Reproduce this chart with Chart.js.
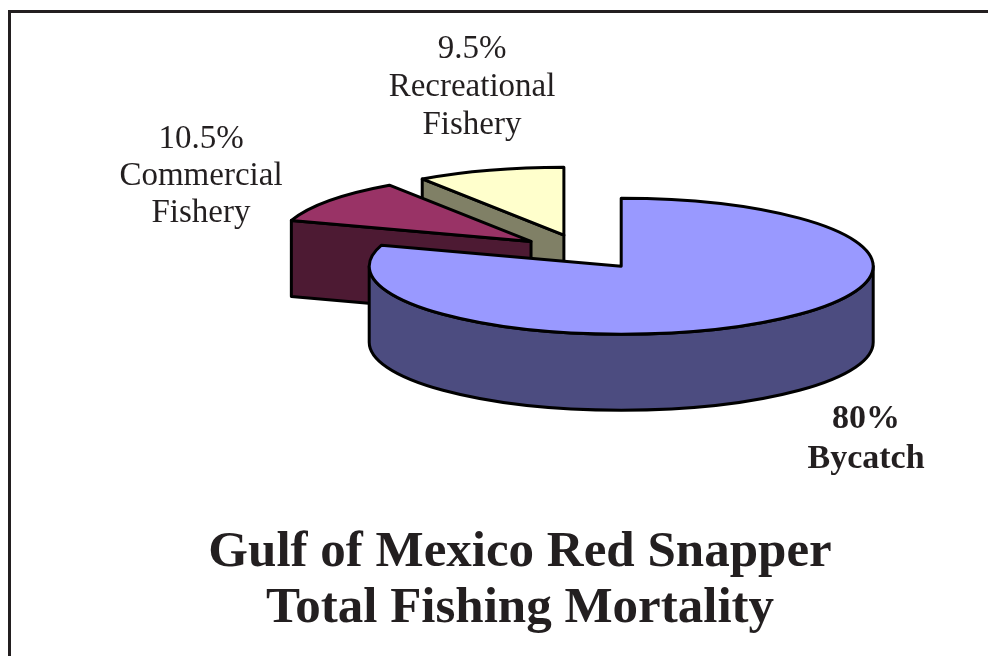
<!DOCTYPE html>
<html>
<head>
<meta charset="utf-8">
<script src="https://cdn.jsdelivr.net/npm/chart.js@4/dist/chart.umd.min.js"></script>
<style>
  html, body { margin: 0; padding: 0; background: #fff; overflow: hidden; }
  #wrap { width: 988px; height: 656px; position: relative; }
</style>
</head>
<body>
<div id="wrap"><canvas id="pie"></canvas></div>
<script>
const categories = ['Bycatch', 'Commercial Fishery', 'Recreational Fishery'];
const shares = [80, 10.5, 9.5];
const titleLines = ['Gulf of Mexico Red Snapper', 'Total Fishing Mortality'];

const topColors = ['#9999ff', '#993366', '#ffffcc'];
const sideColors = ['#4c4c80', '#4d1a33', '#808066'];
const ink = '#231f20';

// thin frame on the top and left edges
const frame = {
  id: 'frame',
  beforeDraw(chart) {
    const ctx = chart.ctx;
    ctx.save();
    ctx.fillStyle = ink;
    ctx.fillRect(8, 10, chart.width - 8, 3);
    ctx.fillRect(8, 10, 3, chart.height - 10);
    ctx.restore();
  }
};

// fake 3D: squash the arcs into ellipses and extrude them downwards
const pie3d = {
  id: 'pie3d',
  beforeDatasetsDraw(chart, args, opts) {
    const ctx = chart.ctx;
    const meta = chart.getDatasetMeta(0);
    const k = opts.tilt, depth = opts.depth;

    const slices = meta.data.map((arc, i) => {
      const p = arc.getProps(['x', 'y', 'startAngle', 'endAngle', 'outerRadius'], true);
      const mid = (p.startAngle + p.endAngle) / 2;
      return {
        i,
        a0: p.startAngle,
        a1: p.endAngle,
        r: p.outerRadius,
        ox: p.x + Math.cos(mid) * opts.explode,
        oy: p.y + Math.sin(mid) * opts.explode * k,
        color: arc.options.backgroundColor
      };
    }).sort((a, b) => a.oy - b.oy);

    ctx.save();
    ctx.lineWidth = opts.lineWidth;
    ctx.lineJoin = 'round';
    ctx.strokeStyle = '#000';

    slices.forEach(s => {
      const ry = s.r * k;
      const face = (draw, color) => {
        ctx.beginPath();
        draw();
        ctx.closePath();
        ctx.fillStyle = color;
        ctx.fill();
        ctx.stroke();
      };

      // cut faces that look towards the viewer
      [[s.a0, s.a0 - Math.PI / 2], [s.a1, s.a1 + Math.PI / 2]].forEach(([t, n]) => {
        if (Math.sin(n) <= 0.02) return;
        const px = s.ox + s.r * Math.cos(t);
        const py = s.oy + ry * Math.sin(t);
        face(() => {
          ctx.moveTo(s.ox, s.oy);
          ctx.lineTo(px, py);
          ctx.lineTo(px, py + depth);
          ctx.lineTo(s.ox, s.oy + depth);
        }, sideColors[s.i]);
      });

      // outer wall, front half only
      for (let n = -1; n <= 2; n++) {
        const lo = Math.max(s.a0, n * 2 * Math.PI);
        const hi = Math.min(s.a1, n * 2 * Math.PI + Math.PI);
        if (lo < hi) {
          face(() => {
            ctx.ellipse(s.ox, s.oy, s.r, ry, 0, lo, hi);
            ctx.ellipse(s.ox, s.oy + depth, s.r, ry, 0, hi, lo, true);
          }, sideColors[s.i]);
        }
      }

      // top
      face(() => {
        ctx.moveTo(s.ox, s.oy);
        ctx.ellipse(s.ox, s.oy, s.r, ry, 0, s.a0, s.a1);
      }, s.color);
    });

    ctx.restore();
    return false;
  }
};

const sliceLabels = {
  id: 'sliceLabels',
  afterDraw(chart, args, opts) {
    const ctx = chart.ctx;
    const meta = chart.getDatasetMeta(0);
    ctx.save();
    ctx.fillStyle = ink;
    ctx.textAlign = 'center';
    ctx.textBaseline = 'alphabetic';
    meta.data.forEach((arc, i) => {
      const spot = opts.spots[i];
      const lines = [shares[i] + '%'].concat(categories[i].split(' '));
      ctx.font = (spot.bold ? 'bold ' : '') + spot.size + 'px "Liberation Serif", serif';
      lines.forEach((t, j) => {
        ctx.fillText(t, arc.x + spot.dx, arc.y + spot.dy + j * spot.lh);
      });
    });
    ctx.restore();
  }
};

const titleText = {
  id: 'titleText',
  afterDraw(chart, args, opts) {
    const ctx = chart.ctx;
    ctx.save();
    ctx.fillStyle = ink;
    ctx.textAlign = 'center';
    ctx.font = 'bold ' + opts.size + 'px "Liberation Serif", serif';
    titleLines.forEach((t, j) => ctx.fillText(t, opts.x, opts.y + j * opts.lh));
    ctx.restore();
  }
};

new Chart(document.getElementById('pie'), {
  type: 'pie',
  data: {
    labels: categories,
    datasets: [{
      data: shares,
      backgroundColor: topColors,
      borderWidth: 0,
      radius: 252
    }]
  },
  options: {
    responsive: true,
    maintainAspectRatio: false,
    animation: false,
    events: [],
    layout: { padding: { left: 178, right: 0, top: 0, bottom: 152 } },
    plugins: {
      legend: { display: false },
      tooltip: { enabled: false },
      pie3d: { tilt: 0.27, depth: 76, explode: 65, lineWidth: 3 },
      sliceLabels: {
        spots: [
          { dx: 283, dy: 176, lh: 40, size: 34, bold: true },
          { dx: -382, dy: -104, lh: 37, size: 33 },
          { dx: -111, dy: -194, lh: 38, size: 33 }
        ]
      },
      titleText: { x: 520, y: 566, lh: 56, size: 51 }
    }
  },
  plugins: [frame, pie3d, sliceLabels, titleText]
});
</script>
</body>
</html>
